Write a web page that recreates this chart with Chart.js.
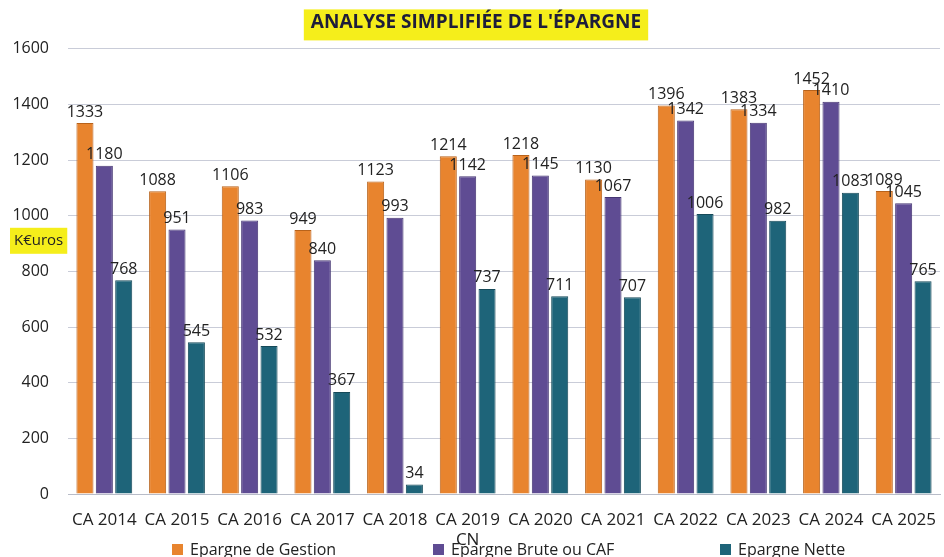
<!DOCTYPE html>
<html><head><meta charset="utf-8">
<script src="https://cdn.jsdelivr.net/npm/chart.js@4"></script>
<style>
html,body{margin:0;padding:0;background:#fff;}
#wrap{position:relative;width:944px;height:557px;}
#legend{position:absolute;left:0;top:538px;width:944px;height:19px;font-family:"Open Sans",Lato,sans-serif;font-size:16px;color:#222;}
.li{position:absolute;top:0;display:flex;align-items:center;white-space:nowrap;}
.sw{display:inline-block;width:11px;height:11px;margin-right:7px;}
</style></head>
<body><div id="wrap"><canvas id="c" width="944" height="557"></canvas><div id="legend"></div></div>
<script>
const categories = ['CA 2014','CA 2015','CA 2016','CA 2017','CA 2018',['CA 2019','CN'],'CA 2020','CA 2021','CA 2022','CA 2023','CA 2024','CA 2025'];
const epargneGestion = [1333,1088,1106,949,1123,1214,1218,1130,1396,1383,1452,1089];
const epargneBrute = [1180,951,983,840,993,1142,1145,1067,1342,1334,1410,1045];
const epargneNette = [768,545,532,367,34,737,711,707,1006,982,1083,765];
const seriesNames = ['Epargne de Gestion','Epargne Brute ou CAF','Epargne Nette'];
const yTicks = [0,200,400,600,800,1000,1200,1400,1600];
const titleText = "ANALYSE SIMPLIFIÉE DE L'ÉPARGNE";
const unitLabel = 'K€uros';
const colors = ['#E8842E','#5F4C93','#1E6479'];
const borders = ['#B8621A','#453572','#164A59'];
const FONT = '"Open Sans", Lato, sans-serif';

const labelPlugin = {
  id:'barLabels',
  afterDatasetsDraw(chart){
    const ctx = chart.ctx;
    ctx.save();
    ctx.font = '16px ' + FONT;
    ctx.fillStyle = '#222';
    ctx.textAlign = 'center';
    ctx.textBaseline = 'bottom';
    chart.data.datasets.forEach((ds,di)=>{
      chart.getDatasetMeta(di).data.forEach((bar,i)=>{
        ctx.fillText(String(ds.data[i]), bar.x, bar.y - 3);
      });
    });
    ctx.restore();
  }
};
const decoPlugin = {
  id:'deco',
  beforeDraw(chart){
    const ctx = chart.ctx;
    const t = chart.titleBlock;
    ctx.save();
    ctx.font = 'bold 19px ' + FONT;
    const w = ctx.measureText(titleText).width;
    const cx = t.left + t.width/2;
    const cy = t.top + t.height/2;
    ctx.fillStyle = '#F5EE1B';
    ctx.fillRect(cx - w/2 - 7, cy - 15, w + 14, 31);
    // unit label
    const ys = chart.scales.y;
    const uy = ys.getPixelForValue(910);
    ctx.font = '15px ' + FONT;
    const uw = ctx.measureText(unitLabel).width;
    ctx.fillStyle = '#F5EE1B';
    ctx.fillRect(10, uy - 13, uw + 8, 26);
    ctx.fillStyle = '#222';
    ctx.textAlign = 'left';
    ctx.textBaseline = 'middle';
    ctx.fillText(unitLabel, 14, uy);
    ctx.restore();
  }
};

const chart = new Chart(document.getElementById('c'), {
  type:'bar',
  data:{
    labels: categories,
    datasets: [epargneGestion, epargneBrute, epargneNette].map((d,i)=>({
      label: seriesNames[i], data: d, backgroundColor: colors[i],
      borderColor: borders[i], borderWidth: 1,
      categoryPercentage: 0.8, barPercentage: 0.88
    }))
  },
  options:{
    responsive:false, animation:false,
    layout:{padding:{left:12,right:4,top:0,bottom:0}},
    plugins:{
      legend:{display:false},
      tooltip:{enabled:false},
      title:{display:true,text:titleText,color:'#1d1d3a',font:{family:FONT,size:19,weight:'bold'},padding:{top:11,bottom:15}}
    },
    scales:{
      x:{grid:{display:false,drawTicks:false},border:{color:'#b8bcc8'},
         afterFit(axis){axis.paddingLeft = 0; axis.paddingRight = 0; axis.height = 63;},
         ticks:{color:'#222',font:{family:FONT,size:17},padding:16,maxRotation:0,autoSkip:false}},
      y:{min:0,max:1600,
         afterBuildTicks(axis){axis.ticks = yTicks.map(v=>({value:v}));},
         afterFit(axis){axis.paddingTop = 0; axis.paddingBottom = 0; axis.width = 56;},
         grid:{color:'#c9ccd8',drawTicks:false},border:{display:false},
         ticks:{color:'#222',font:{family:FONT,size:16},padding:19,callback:(v)=>String(v)}}
    }
  },
  plugins:[decoPlugin,labelPlugin]
});

// HTML legend generated from datasets
const legendPos = [172,433,720];
const lg = document.getElementById('legend');
chart.data.datasets.forEach((ds,i)=>{
  const d = document.createElement('div');
  d.className='li'; d.style.left = legendPos[i]+'px';
  const s = document.createElement('span'); s.className='sw'; s.style.background = ds.backgroundColor;
  d.appendChild(s); d.appendChild(document.createTextNode(ds.label));
  lg.appendChild(d);
});
</script></body></html>
